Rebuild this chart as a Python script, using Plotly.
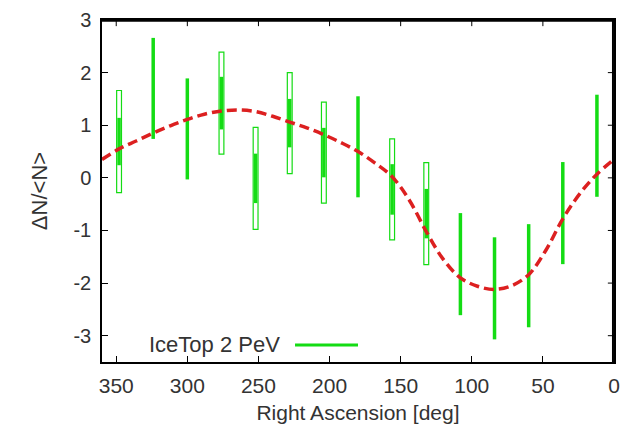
import plotly.graph_objects as go

# IceTop 2 PeV relative intensity per right-ascension bin
ra_bins = [348, 324, 300, 276, 252, 228, 204, 180, 156, 132, 108, 84, 60, 36, 12]
rel_int = [0.69, 1.70, 0.93, 1.42, -0.01, 1.04, 0.48, 0.59, -0.22, -0.68, -1.64, -2.10, -1.86, -0.67, 0.61]
stat_err = [0.45, 0.96, 0.96, 0.50, 0.47, 0.46, 0.47, 0.96, 0.48, 0.47, 0.97, 0.97, 0.98, 0.97, 0.97]
# systematic boxes (only where they show outside the stat bar)
sys_err = [0.97, None, None, 0.97, 0.97, 0.96, 0.96, None, 0.96, 0.97, None, None, None, None, None]

# fitted curve
fit_ra = [360, 348, 336, 324, 312, 300, 288, 276, 264, 252, 240, 228, 216, 204, 192, 180,
          168, 156, 144, 132, 120, 108, 96, 84, 72, 60, 48, 36, 24, 12, 0]
fit_val = [0.35, 0.55, 0.70, 0.85, 0.99, 1.11, 1.21, 1.27, 1.29, 1.26, 1.17, 1.06, 0.95, 0.82, 0.67, 0.50,
           0.28, 0.02, -0.42, -1.02, -1.55, -1.90, -2.06, -2.12, -2.05, -1.84, -1.38, -0.78, -0.30, 0.07, 0.35]

x_ticks = [0, 50, 100, 150, 200, 250, 300, 350]
y_ticks = [-3, -2, -1, 0, 1, 2, 3]
y_labels = ['-3', '-2', '-1', '0', '1', '2', '3']

GREEN = '#14dc14'
RED = '#dc2020'
FONT = 'Liberation Sans, Arial, sans-serif'
TXT = '#333333'

fig = go.Figure()

# systematic boxes
box_x = [x for x, s in zip(ra_bins, sys_err) if s is not None]
box_base = [v - s for v, s in zip(rel_int, sys_err) if s is not None]
box_h = [2 * s for s in sys_err if s is not None]
fig.add_trace(go.Bar(
    x=box_x, y=box_h, base=box_base, width=3.4,
    marker=dict(color='rgba(255,255,255,0)', line=dict(color=GREEN, width=1.2)),
    showlegend=False, hoverinfo='skip'
))

# statistical error bars
fig.add_trace(go.Scatter(
    x=ra_bins, y=rel_int, mode='markers',
    marker=dict(color=GREEN, size=2),
    error_y=dict(type='data', array=stat_err, color=GREEN, thickness=3.5, width=0),
    name='IceTop 2 PeV', showlegend=False
))

# fit
fig.add_trace(go.Scatter(
    x=fit_ra, y=fit_val, mode='lines',
    line=dict(color=RED, width=3.5, dash='10px,5px', shape='spline'),
    showlegend=False, hoverinfo='skip'
))

# legend drawn by hand (text left, sample right, like gnuplot)
fig.add_annotation(
    x=0.352, y=0.05, xref='paper', yref='paper', xanchor='right', yanchor='middle',
    text='IceTop 2 PeV', showarrow=False, font=dict(size=22, color=TXT, family=FONT)
)
fig.add_shape(type='line', xref='paper', yref='paper', x0=0.377, x1=0.5, y0=0.05, y1=0.05,
              line=dict(color=GREEN, width=3))

# top and right border lines, plus mirrored ticks
fig.add_shape(type='line', xref='paper', yref='paper', x0=0, x1=1, y0=0.998, y1=0.998,
              line=dict(color='black', width=2))
fig.add_shape(type='line', xref='paper', yref='paper', x0=0.998, x1=0.998, y0=0, y1=1,
              line=dict(color='black', width=2))
for t in x_ticks:
    fig.add_shape(type='line', xref='x', yref='paper', x0=t, x1=t, y0=1, y1=0.982,
                  line=dict(color='black', width=1))
for t in y_ticks:
    fig.add_shape(type='line', yref='y', xref='paper', y0=t, y1=t, x0=1, x1=0.988,
                  line=dict(color='black', width=1))

# page body has an 8px margin, so margins are shifted by that
fig.update_layout(
    width=629, height=435,
    margin=dict(l=94, r=23, t=12, b=81),
    plot_bgcolor='white', paper_bgcolor='white',
    font=dict(family=FONT, size=21, color=TXT),
    barmode='overlay',
)
fig.update_xaxes(
    range=[360, 0], tickvals=x_ticks, ticks='inside', ticklen=6, tickcolor='black',
    showline=True, linecolor='black', linewidth=1.5, mirror=True, showgrid=False, zeroline=False,
    ticklabelstandoff=4, ticklabeloverflow='allow', automargin=False,
    title=dict(text='Right Ascension [deg]', standoff=9, font=dict(size=21)),
)
fig.update_yaxes(
    range=[-3.5, 3], tickvals=y_ticks, ticktext=y_labels, ticks='inside', ticklen=6, tickcolor='black',
    showline=True, linecolor='black', linewidth=1.5, mirror=True, showgrid=False, zeroline=False,
    ticklabelstandoff=5, ticklabeloverflow='allow', automargin=False, tickfont=dict(size=20),
    title=dict(text='ΔN/&lt;N&gt;', standoff=20, font=dict(size=22)),
)

fig.write_html("out.html")
